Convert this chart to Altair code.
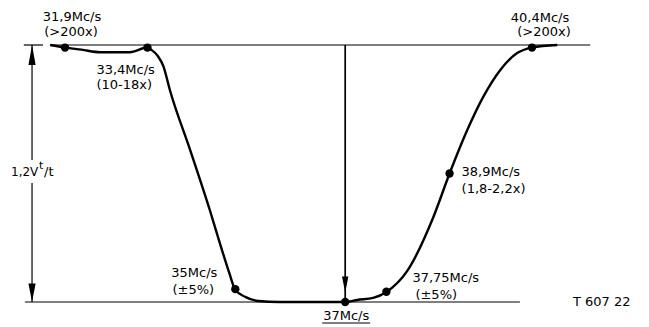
import altair as alt
import pandas as pd

# ---- data (frequency in Mc/s, relative attenuation level 0..1) ----
curve_f = [31.63, 31.9, 32.2, 32.54, 33.08, 33.4, 33.48, 33.59, 33.69, 33.81, 34.18,
           34.54, 34.76, 34.89, 35.0, 35.18, 35.42, 35.8, 36.4, 37.0, 37.22, 37.51,
           37.75, 38.13, 38.6, 38.9, 39.22, 39.51, 39.82, 40.13, 40.4, 40.86]
curve_y = [1.0, 0.99, 0.982, 0.972, 0.972, 0.99, 0.98, 0.957, 0.918, 0.824, 0.59,
           0.355, 0.2, 0.113, 0.047, 0.02, 0.004, 0.0, 0.0, 0.0, 0.008, 0.016,
           0.039, 0.121, 0.328, 0.5, 0.668, 0.797, 0.902, 0.969, 0.99, 1.0]

marker_f = [31.9, 33.4, 35.0, 37.0, 37.75, 38.9, 40.4]
marker_y = [0.99, 0.99, 0.05, 0.0, 0.04, 0.5, 0.99]
marker_l1 = ["31,9Mc/s", "33,4Mc/s", "35Mc/s", "37Mc/s", "37,75Mc/s", "38,9Mc/s", "40,4Mc/s"]
marker_l2 = ["(>200x)", "(10-18x)", "(\u00b15%)", "", "(\u00b15%)", "(1,8-2,2x)", "(>200x)"]

top_line_f = [31.63, 41.46]
top_cap_f = [31.15, 31.50]
bottom_line_f = [31.17, 40.18]
dim_f = 31.3            # position of the 1,2 V t/t dimension arrow
dim_gap = [0.463, 0.553]
centre_f = 37.0

FONT = "DejaVu Sans"
FS = 13

xs = alt.Scale(domain=[30.8625, 42.3842], nice=False, zero=False)
ys = alt.Scale(domain=[-0.03502, 1.14397], nice=False, zero=False)

def X(f="f"):
    return alt.X(f"{f}:Q", scale=xs, axis=None)

def Y(f="y"):
    return alt.Y(f"{f}:Q", scale=ys, axis=None)

curve_df = pd.DataFrame({"f": curve_f, "y": curve_y})
mk_df = pd.DataFrame({"f": marker_f, "y": marker_y, "l1": marker_l1, "l2": marker_l2})

layers = []

# horizontal reference lines
hl = pd.DataFrame({
    "f": [top_line_f[0], top_cap_f[0], bottom_line_f[0]],
    "f2": [top_line_f[1], top_cap_f[1], bottom_line_f[1]],
    "y": [1.0, 1.0, 0.0],
})
layers.append(alt.Chart(hl).mark_rule(color="black", strokeWidth=1.2).encode(
    x=X(), x2="f2:Q", y=Y()))

# dimension arrow (two segments around the label)
dl = pd.DataFrame({"f": [dim_f, dim_f], "y": [0.0, dim_gap[1]], "y2": [dim_gap[0], 1.0]})
layers.append(alt.Chart(dl).mark_rule(color="black", strokeWidth=1.2).encode(
    x=X(), y=Y(), y2="y2:Q"))
up_head = "M0,0L0.9,5L-0.9,5Z"
down_head = "M0,0L0.9,-4.6L-0.9,-4.6Z"
layers.append(alt.Chart(pd.DataFrame({"f": [dim_f], "y": [1.0]})).mark_point(
    shape=up_head, filled=True, color="black", size=64, opacity=1).encode(x=X(), y=Y()))
layers.append(alt.Chart(pd.DataFrame({"f": [dim_f], "y": [0.0]})).mark_point(
    shape=down_head, filled=True, color="black", size=64, opacity=1).encode(x=X(), y=Y()))

# centre arrow
cl = pd.DataFrame({"f": [centre_f], "y": [0.0], "y2": [1.0]})
layers.append(alt.Chart(cl).mark_rule(color="black", strokeWidth=1.7).encode(
    x=X(), y=Y(), y2="y2:Q"))
centre_head = "M0,-2.4L0.8,-6.4L-0.8,-6.4Z"
layers.append(alt.Chart(pd.DataFrame({"f": [centre_f], "y": [0.0]})).mark_point(
    shape=centre_head, filled=True, color="black", size=64, opacity=1).encode(x=X(), y=Y()))

# response curve
layers.append(alt.Chart(curve_df).mark_line(
    color="black", strokeWidth=2.4, interpolate="monotone").encode(x=X(), y=Y()))

# markers
layers.append(alt.Chart(mk_df).mark_point(
    filled=True, color="black", size=70, opacity=1, shape="circle").encode(x=X(), y=Y()))

# labels: (marker index, which line, dx, dy, align)
label_layout = [
    (0, "l1", 7, -30.6, "center"), (0, "l2", 6, -15.6, "center"),
    (1, "l1", -51, 22.4, "left"), (1, "l2", -51, 37.4, "left"),
    (2, "l1", -41, -16, "center"), (2, "l2", -42, 1, "center"),
    (3, "l1", 1, 14, "center"),
    (4, "l1", 26, -14, "left"), (4, "l2", 29, 3, "left"),
    (5, "l1", 12, -1.5, "left"), (5, "l2", 12, 15.5, "left"),
    (6, "l1", 8, -29.6, "center"), (6, "l2", 12, -15.6, "center"),
]
for idx, col, dx, dy, al in label_layout:
    sub = mk_df.iloc[[idx]]
    layers.append(alt.Chart(sub).mark_text(
        font=FONT, fontSize=FS, color="black", dx=dx, dy=dy, align=al, baseline="middle"
    ).encode(x=X(), y=Y(), text=f"{col}:N"))

# underline of 37Mc/s
layers.append(alt.Chart(mk_df.iloc[[3]]).mark_rule(
    color="black", strokeWidth=1.2, xOffset=-23, x2Offset=25, yOffset=21, y2Offset=21
).encode(x=X(), x2="f:Q", y=Y()))

# dimension label 1,2 V t/t
dim_lab = pd.DataFrame({"f": [dim_f], "y": [0.506], "a": ["1,2V"], "b": ["t"], "c": ["/t"]})
layers.append(alt.Chart(dim_lab).mark_text(
    font=FONT, fontSize=12, color="black", align="left", dx=-21, baseline="middle"
).encode(x=X(), y=Y(), text="a:N"))
layers.append(alt.Chart(dim_lab).mark_text(
    font=FONT, fontSize=11, color="black", align="left", dx=7, dy=-6, baseline="middle"
).encode(x=X(), y=Y(), text="b:N"))
layers.append(alt.Chart(dim_lab).mark_text(
    font=FONT, fontSize=13, color="black", align="left", dx=12, dy=0, baseline="middle"
).encode(x=X(), y=Y(), text="c:N"))

# figure code
layers.append(alt.Chart(pd.DataFrame({"t": ["T 607 22"]})).mark_text(
    font=FONT, fontSize=FS, color="black", align="left", baseline="middle"
).encode(x=alt.value(565), y=alt.value(294), text="t:N"))

chart = alt.layer(*layers).properties(
    width=633, height=303,
    padding={"left": 0, "top": 0, "right": 0, "bottom": 16},
    autosize="none", background="white"
).configure_view(stroke=None)

chart.save("out.html", embed_options={"renderer": "svg", "actions": False})
